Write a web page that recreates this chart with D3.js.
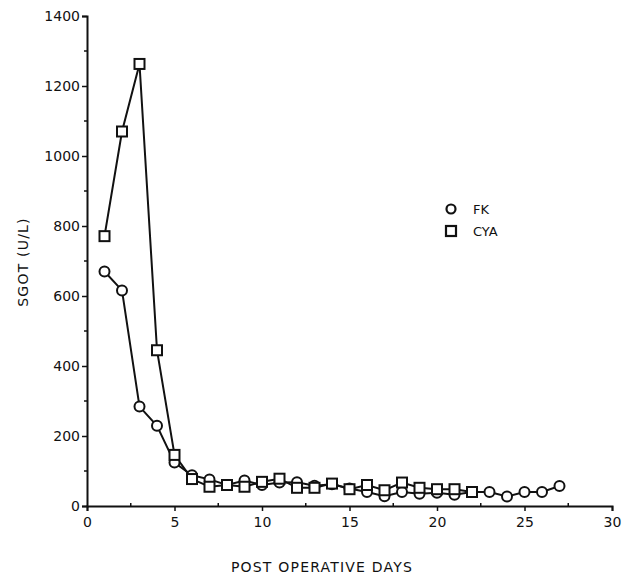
<!DOCTYPE html>
<html><head><meta charset="utf-8">
<script src="https://cdn.jsdelivr.net/npm/d3@7"></script>
<style>body{margin:0;background:#fff}svg{display:block}text{font-family:"DejaVu Sans",sans-serif;fill:#111}</style>
</head><body><svg id="c" width="629" height="580"></svg>
<script>
const fkDays = [1,2,3,4,5,6,7,8,9,10,11,12,13,14,15,16,17,18,19,20,21,22,23,24,25,26,27];
const fkValues = [670,616,284,229,124,88,76,60,73,60,67,68,58,62,50,40,28,40,35,38,32,40,40,27,40,40,57];
const cyaDays = [1,2,3,4,5,6,7,8,9,10,11,12,13,14,15,16,17,18,19,20,21,22];
const cyaValues = [771,1070,1263,445,146,77,55,60,55,69,78,52,52,64,48,60,45,67,52,48,48,40];
const xTicks = [0,5,10,15,20,25,30];
const yTicks = [0,200,400,600,800,1000,1200,1400];
const legendLabels = ["FK","CYA"];

const svg = d3.select("#c");
const x = d3.scaleLinear().domain([0,30]).range([87,612]);
const y = d3.scaleLinear().domain([0,1400]).range([506,16]);

// axes
const gx = svg.append("g").attr("transform","translate(0,506)")
  .call(d3.axisBottom(x).tickValues(xTicks).tickSize(5).tickPadding(6).tickFormat(d3.format("d")));
const gy = svg.append("g").attr("transform","translate(87,0)")
  .call(d3.axisLeft(y).tickValues(yTicks).tickSize(5).tickPadding(2).tickFormat(d3.format("d")));
[gx,gy].forEach(g=>{
  g.select(".domain").attr("stroke","#111").attr("stroke-width",2);
  g.selectAll(".tick line").attr("stroke","#111").attr("stroke-width",1.5);
  g.selectAll(".tick text").attr("font-size",14).attr("font-family","DejaVu Sans").attr("fill","#111");
});
// minor ticks
svg.append("g").selectAll("line").data(d3.range(100,1400,200)).join("line")
  .attr("x1",84).attr("x2",87).attr("y1",d=>y(d)).attr("y2",d=>y(d)).attr("stroke","#111").attr("stroke-width",1.5);
svg.append("g").selectAll("line").data(d3.range(2.5,30,5)).join("line")
  .attr("x1",d=>x(d)).attr("x2",d=>x(d)).attr("y1",503).attr("y2",506).attr("stroke","#111").attr("stroke-width",1.5);

// titles
svg.append("text").attr("x",322).attr("y",572).attr("text-anchor","middle").attr("font-size",14).attr("letter-spacing",1.2).text("POST OPERATIVE DAYS");
svg.append("text").attr("transform","translate(28,262) rotate(-90)").attr("text-anchor","middle").attr("font-size",14).attr("letter-spacing",1.2).text("SGOT (U/L)");

const line = d3.line().x(d=>x(d[0])).y(d=>y(d[1]));
const fk = fkDays.map((d,i)=>[d,fkValues[i]]);
const cya = cyaDays.map((d,i)=>[d,cyaValues[i]]);

svg.append("path").datum(cya).attr("d",line).attr("fill","none").attr("stroke","#111").attr("stroke-width",2);
svg.append("path").datum(fk).attr("d",line).attr("fill","none").attr("stroke","#111").attr("stroke-width",2);
svg.append("g").selectAll("circle").data(fk).join("circle")
  .attr("cx",d=>x(d[0])).attr("cy",d=>y(d[1])).attr("r",5).attr("fill","#fff").attr("stroke","#111").attr("stroke-width",2);
svg.append("g").selectAll("rect").data(cya).join("rect")
  .attr("x",d=>x(d[0])-5).attr("y",d=>y(d[1])-5).attr("width",10).attr("height",10).attr("fill","#fff").attr("stroke","#111").attr("stroke-width",2);

// legend
const lg = svg.append("g");
lg.append("circle").attr("cx",451).attr("cy",209).attr("r",4.5).attr("fill","#fff").attr("stroke","#111").attr("stroke-width",2.2);
lg.append("rect").attr("x",446).attr("y",226).attr("width",10).attr("height",10).attr("fill","#fff").attr("stroke","#111").attr("stroke-width",2.2);
lg.selectAll("text").data(legendLabels).join("text").attr("x",473).attr("y",(d,i)=>214+i*22).attr("font-size",13).text(d=>d);
</script></body></html>
